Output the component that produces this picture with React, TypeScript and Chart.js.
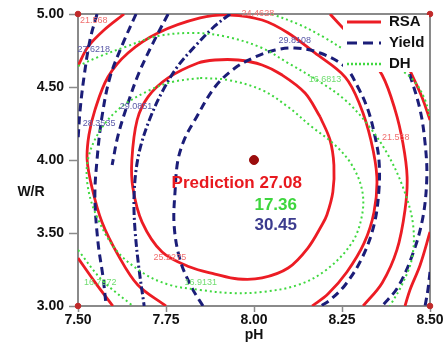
import { useEffect, useRef } from "react";
import { Chart, registerables } from "chart.js";

Chart.register(...registerables);

const FONT = "Arial, 'Liberation Sans', Helvetica, sans-serif";

// Axes
const xTicks = [7.5, 7.75, 8.0, 8.25, 8.5];
const yTicks = [3.0, 3.5, 4.0, 4.5, 5.0];
const xTitle = "pH";
const yTitle = "W/R";

// Legend
const legendLabels = ["RSA", "Yield", "DH"];

// Prediction point and values
const predictionX = [8.0];
const predictionY = [4.0];
const predictionLines = ["Prediction 27.08", "17.36", "30.45"];

// Design (corner) points
const cornerX = [7.5, 8.5, 7.5, 8.5];
const cornerY = [5.0, 5.0, 3.0, 3.0];

// RSA contours (solid red)
const rsa1X = [8.188, 8.145, 8.080, 8.023, 7.955, 7.889, 7.841, 7.756, 7.699, 7.668, 7.653, 7.656, 7.682, 7.739, 7.818, 7.889, 7.955, 8.023, 8.097, 8.153, 8.193, 8.207, 8.224, 8.227, 8.216, 8.188];
const rsa1Y = [4.295, 4.459, 4.582, 4.651, 4.685, 4.685, 4.664, 4.562, 4.432, 4.274, 4.000, 3.808, 3.575, 3.370, 3.267, 3.219, 3.185, 3.192, 3.260, 3.397, 3.555, 3.623, 3.781, 3.966, 4.137, 4.295];
const rsa2X = [7.750, 7.670, 7.614, 7.568, 7.540, 7.526, 7.531, 7.548, 7.585, 7.642, 7.727, 7.847, 7.932, 8.023, 8.097, 8.173, 8.259, 8.301, 8.332, 8.349, 8.341, 8.313, 8.264, 8.210, 8.165];
const rsa2Y = [3.000, 3.144, 3.349, 3.575, 3.808, 4.000, 4.171, 4.342, 4.568, 4.733, 4.870, 4.973, 4.993, 4.959, 4.870, 4.733, 4.568, 4.377, 4.137, 3.884, 3.644, 3.432, 3.233, 3.082, 3.000];
const rsa3aX = [7.631, 7.574, 7.528, 7.500];
const rsa3aY = [5.000, 4.890, 4.774, 4.644];
const rsa3bX = [8.216, 8.250, 8.307, 8.364, 8.401, 8.423, 8.435, 8.429, 8.406, 8.364, 8.310];
const rsa3bY = [5.000, 4.911, 4.767, 4.582, 4.342, 4.116, 3.884, 3.658, 3.384, 3.158, 3.000];
const rsa3cX = [7.500, 7.548, 7.599];
const rsa3cY = [3.329, 3.164, 3.000];
const rsa4aX = [8.429, 8.449, 8.477, 8.500];
const rsa4aY = [4.685, 4.582, 4.432, 4.274];
const rsa4bX = [8.500, 8.472, 8.443, 8.429];
const rsa4bY = [3.507, 3.281, 3.110, 3.000];

// Yield contours (navy dashed)
const yld1X = [7.855, 7.824, 7.790, 7.773, 7.776, 7.784, 7.804, 7.832, 7.889, 7.946, 8.003, 8.060, 8.116, 8.188, 8.259, 8.295, 8.324, 8.344, 8.355, 8.355, 8.341, 8.307, 8.259, 8.216, 8.190];
const yld1Y = [3.000, 3.123, 3.315, 3.555, 3.795, 4.000, 4.151, 4.274, 4.500, 4.630, 4.705, 4.753, 4.767, 4.733, 4.637, 4.500, 4.342, 4.158, 4.000, 3.795, 3.555, 3.329, 3.144, 3.041, 3.000];
const yldDotX = [7.932, 7.889, 7.841, 7.784, 7.739, 7.705, 7.679, 7.665, 7.659, 7.662, 7.673, 7.688];
const yldDotY = [5.000, 4.918, 4.801, 4.644, 4.466, 4.288, 4.103, 3.932, 3.726, 3.521, 3.260, 3.000];
const yldRightX = [8.429, 8.443, 8.472, 8.486, 8.491, 8.480, 8.452, 8.409, 8.364];
const yldRightY = [4.671, 4.582, 4.342, 4.116, 3.884, 3.610, 3.363, 3.130, 3.000];
const yldCornerX = [8.500, 8.494, 8.486];
const yldCornerY = [3.233, 3.110, 3.000];
const yldN1X = [7.554, 7.534, 7.517, 7.506, 7.500];
const yldN1Y = [5.000, 4.822, 4.568, 4.342, 4.137];
const yldN2X = [7.665, 7.628, 7.591, 7.568, 7.554, 7.548, 7.557, 7.571, 7.580];
const yldN2Y = [5.000, 4.801, 4.568, 4.295, 4.000, 3.747, 3.432, 3.199, 3.000];
const yldN3X = [7.756, 7.713, 7.673, 7.642, 7.614, 7.597];
const yldN3Y = [5.000, 4.801, 4.596, 4.390, 4.171, 3.966];

// DH contours (green dotted)
const dh1X = [7.847, 7.926, 8.023, 8.097, 8.165, 8.230, 8.278, 8.307, 8.307, 8.278, 8.205, 8.125, 8.023, 7.932, 7.847, 7.761, 7.685, 7.608, 7.554, 7.528, 7.528, 7.560, 7.619, 7.699, 7.767, 7.847];
const dh1Y = [4.562, 4.548, 4.479, 4.363, 4.226, 4.103, 3.966, 3.795, 3.623, 3.432, 3.247, 3.144, 3.096, 3.089, 3.110, 3.144, 3.226, 3.384, 3.610, 3.815, 4.000, 4.192, 4.356, 4.473, 4.534, 4.562];
const dh2X = [7.500, 7.557, 7.634, 7.727, 7.832, 7.926, 8.023, 8.097, 8.188, 8.259, 8.324, 8.381, 8.426, 8.452, 8.449, 8.420, 8.386];
const dh2Y = [4.644, 4.705, 4.774, 4.849, 4.870, 4.842, 4.767, 4.664, 4.534, 4.411, 4.240, 4.034, 3.795, 3.555, 3.329, 3.144, 3.000];
const dh2bX = [7.500, 7.568, 7.656];
const dh2bY = [3.384, 3.178, 3.000];
const dh3X = [8.051, 8.131, 8.202, 8.259, 8.335, 8.415, 8.457, 8.486, 8.500];
const dh3Y = [5.000, 4.925, 4.836, 4.753, 4.671, 4.616, 4.534, 4.411, 4.288];

// Contour labels
const contourLabelText = ["21.568", "24.4628", "21.568", "25.2275", "27.6218", "29.0851", "28.3535", "29.8108", "16.6813", "16.7972", "16.9131"];
const contourLabelX = [7.545, 8.011, 8.403, 7.761, 7.545, 7.665, 7.560, 8.116, 8.202, 7.563, 7.849];
const contourLabelY = [4.952, 5.005, 4.151, 3.329, 4.760, 4.363, 4.253, 4.815, 4.548, 3.158, 3.164];
const contourLabelKind = ["rsa", "rsa", "rsa", "rsa", "yield", "yield", "yield", "yield", "dh", "dh", "dh"];

const RED = "#ec1c24";
const NAVY = "#1b1d78";
const GREEN = "#3fd83f";
const AXIS_GRAY = "#8a8a8a";
const labelColor: Record<string, string> = { rsa: "#f07070", yield: "#5a5aa8", dh: "#70dd70" };

const styleOf: Record<string, any> = {
  rsa: { borderColor: RED, borderWidth: 2.8, borderDash: [] },
  yield: { borderColor: NAVY, borderWidth: 3, borderDash: [8, 5] },
  yieldDashDot: { borderColor: NAVY, borderWidth: 3, borderDash: [8, 3, 2, 3] },
  dh: { borderColor: GREEN, borderWidth: 2, borderDash: [2, 3] },
};

const curves: { xs: number[]; ys: number[]; kind: string }[] = [
  { xs: dh1X, ys: dh1Y, kind: "dh" },
  { xs: dh2X, ys: dh2Y, kind: "dh" },
  { xs: dh2bX, ys: dh2bY, kind: "dh" },
  { xs: dh3X, ys: dh3Y, kind: "dh" },
  { xs: yld1X, ys: yld1Y, kind: "yield" },
  { xs: yldDotX, ys: yldDotY, kind: "yieldDashDot" },
  { xs: yldRightX, ys: yldRightY, kind: "yield" },
  { xs: yldCornerX, ys: yldCornerY, kind: "yield" },
  { xs: yldN1X, ys: yldN1Y, kind: "yield" },
  { xs: yldN2X, ys: yldN2Y, kind: "yield" },
  { xs: yldN3X, ys: yldN3Y, kind: "yield" },
  { xs: rsa1X, ys: rsa1Y, kind: "rsa" },
  { xs: rsa2X, ys: rsa2Y, kind: "rsa" },
  { xs: rsa3aX, ys: rsa3aY, kind: "rsa" },
  { xs: rsa3bX, ys: rsa3bY, kind: "rsa" },
  { xs: rsa3cX, ys: rsa3cY, kind: "rsa" },
  { xs: rsa4aX, ys: rsa4aY, kind: "rsa" },
  { xs: rsa4bX, ys: rsa4bY, kind: "rsa" },
];

const zip = (xs: number[], ys: number[]) => xs.map((x, i) => ({ x, y: ys[i] }));

const overlayPlugin = {
  id: "overlay",
  beforeDatasetsDraw(chart: any) {
    const { ctx, chartArea: a } = chart;
    ctx.save();
    ctx.strokeStyle = AXIS_GRAY;
    ctx.lineWidth = 2;
    ctx.beginPath();
    ctx.moveTo(a.left, a.top);
    ctx.lineTo(a.right, a.top);
    ctx.lineTo(a.right, a.bottom);
    ctx.stroke();
    ctx.restore();
  },
  afterDatasetsDraw(chart: any) {
    const { ctx, chartArea: a, scales } = chart;
    const xs = scales.x;
    const ys = scales.y;
    ctx.save();
    // contour labels
    ctx.font = `9px ${FONT}`;
    ctx.textAlign = "center";
    ctx.textBaseline = "middle";
    contourLabelText.forEach((t, i) => {
      ctx.fillStyle = labelColor[contourLabelKind[i]];
      ctx.fillText(t, xs.getPixelForValue(contourLabelX[i]), ys.getPixelForValue(contourLabelY[i]));
    });
    // prediction text
    const px = xs.getPixelForValue(predictionX[0]);
    const py = ys.getPixelForValue(predictionY[0]);
    ctx.textAlign = "right";
    ctx.font = `bold 17px ${FONT}`;
    ctx.fillStyle = "#e8191f";
    ctx.fillText(predictionLines[0], px + 48, py + 23);
    ctx.fillStyle = "#3ed63e";
    ctx.fillText(predictionLines[1], px + 43, py + 45);
    ctx.fillStyle = "#3c3c8e";
    ctx.fillText(predictionLines[2], px + 43, py + 65);
    // legend
    const lx = a.right - 87;
    ctx.fillStyle = "#ffffff";
    ctx.fillRect(lx, a.top + 1, 86, 57);
    const legendStyles = [styleOf.rsa, { ...styleOf.yield, borderDash: [10, 6] }, { ...styleOf.dh, borderDash: [2, 2] }];
    legendLabels.forEach((lab, i) => {
      const ly = a.top + 8 + i * 21;
      const st = legendStyles[i];
      ctx.beginPath();
      ctx.strokeStyle = st.borderColor;
      ctx.lineWidth = i === 2 ? 2.5 : 3;
      ctx.setLineDash(st.borderDash);
      ctx.moveTo(lx + 4, ly);
      ctx.lineTo(lx + 38, ly);
      ctx.stroke();
      ctx.setLineDash([]);
      ctx.fillStyle = "#111";
      ctx.font = `bold 15px ${FONT}`;
      ctx.textAlign = "left";
      ctx.fillText(lab, lx + 46, ly);
    });
    // y title (horizontal)
    ctx.font = `bold 14px ${FONT}`;
    ctx.textAlign = "center";
    ctx.fillStyle = "#111";
    ctx.fillText(yTitle, a.left - 47, a.top + (a.bottom - a.top) * 0.61);
    ctx.restore();
  },
};

export default function App() {
  const ref = useRef<HTMLCanvasElement | null>(null);
  useEffect(() => {
    document.body.style.margin = "0";
    const canvas = ref.current;
    if (!canvas) return;
    const datasets: any[] = curves.map((c) => ({
      data: zip(c.xs, c.ys),
      showLine: true,
      tension: 0.35,
      pointRadius: 0,
      pointHoverRadius: 0,
      fill: false,
      ...styleOf[c.kind],
    }));
    datasets.push({
      data: zip(cornerX, cornerY),
      pointRadius: 2.8,
      pointBackgroundColor: "#c02a2a",
      pointBorderColor: "#c02a2a",
      showLine: false,
      clip: false,
    });
    datasets.push({
      data: zip(predictionX, predictionY),
      pointRadius: 4.5,
      pointBackgroundColor: "#9b0d0d",
      pointBorderColor: "#9b0d0d",
      showLine: false,
    });
    const tickFont = { family: FONT, size: 14, weight: "bold" as const, lineHeight: 1 };
    const chart = new Chart(canvas, {
      type: "scatter",
      data: { datasets },
      plugins: [overlayPlugin],
      options: {
        responsive: false,
        animation: false,
        devicePixelRatio: 1,
        events: [],
        layout: { padding: { left: 0, top: 14, right: 18, bottom: 0 } },
        plugins: { legend: { display: false }, tooltip: { enabled: false } },
        scales: {
          x: {
            type: "linear",
            min: 7.5,
            max: 8.5,
            afterBuildTicks: (s: any) => {
              s.ticks = xTicks.map((v) => ({ value: v }));
            },
            afterFit: (s: any) => {
              s.height = 37;
            },
            ticks: {
              callback: (v: any) => Number(v).toFixed(2),
              font: tickFont,
              color: "#111",
              padding: 1,
              maxRotation: 0,
              autoSkip: false,
            },
            grid: { display: true, drawOnChartArea: false, drawTicks: true, tickLength: 6, tickColor: AXIS_GRAY, tickWidth: 1.5 },
            border: { display: true, color: AXIS_GRAY, width: 2 },
            title: { display: true, text: xTitle, color: "#111", font: { family: FONT, size: 14, weight: "bold" }, padding: { top: 0, bottom: -1 } },
          },
          y: {
            type: "linear",
            min: 3,
            max: 5,
            afterBuildTicks: (s: any) => {
              s.ticks = yTicks.map((v) => ({ value: v }));
            },
            afterFit: (s: any) => {
              s.width = 78;
            },
            ticks: {
              callback: (v: any) => Number(v).toFixed(2),
              font: tickFont,
              color: "#111",
              padding: 5,
              autoSkip: false,
            },
            grid: { display: true, drawOnChartArea: false, drawTicks: true, tickLength: 9, tickColor: AXIS_GRAY, tickWidth: 1.5 },
            border: { display: true, color: AXIS_GRAY, width: 2 },
            title: { display: false },
          },
        },
      } as any,
    });
    return () => chart.destroy();
  }, []);
  return (
    <div style={{ width: 448, height: 343, background: "#fff" }}>
      <canvas ref={ref} width={448} height={343} style={{ display: "block" }} />
    </div>
  );
}
